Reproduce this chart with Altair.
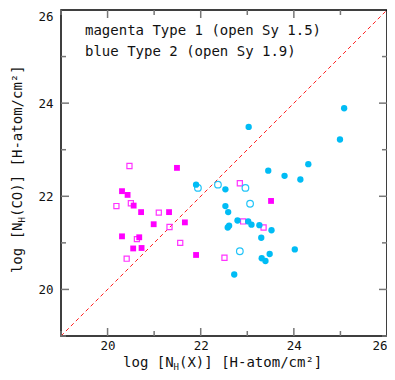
import altair as alt
import pandas as pd

# Type 1 (magenta squares): filled = Sy 1.0-1.2, open = Sy 1.5
t1_fill_x = [20.31, 20.43, 20.56, 20.72, 21.32, 21.49, 20.99, 21.66, 20.31, 20.68, 20.55, 20.73, 21.90, 23.51]
t1_fill_y = [22.11, 22.03, 21.80, 21.66, 21.66, 22.61, 21.40, 21.44, 21.14, 21.12, 20.88, 20.89, 20.74, 21.90]
t1_open_x = [20.47, 20.19, 20.50, 21.10, 21.33, 20.63, 20.41, 21.56, 22.51, 22.84, 22.91, 23.35]
t1_open_y = [22.65, 21.79, 21.85, 21.65, 21.34, 21.08, 20.66, 21.00, 20.68, 22.28, 21.46, 21.33]
# Type 2 (blue circles): filled = Sy 2, open = Sy 1.9
t2_fill_x = [21.90, 22.53, 23.03, 25.08, 24.99, 24.31, 23.80, 24.14, 23.45, 22.53, 22.59, 22.79,
             23.02, 23.09, 22.61, 22.58, 23.26, 23.52, 23.30, 23.48, 23.31, 23.39, 24.02, 22.72]
t2_fill_y = [22.25, 22.15, 23.49, 23.89, 23.22, 22.69, 22.44, 22.36, 22.55, 21.79, 21.66, 21.48,
             21.46, 21.39, 21.37, 21.33, 21.38, 21.27, 21.11, 20.76, 20.67, 20.61, 20.86, 20.32]
t2_open_x = [21.94, 22.37, 22.96, 23.06, 22.84]
t2_open_y = [22.18, 22.25, 22.18, 21.84, 20.82]

diag = [19, 26]
major_ticks = [20, 22, 24]
minor_ticks = [19, 21, 23, 25]
tick_labels = [20, 22, 24, 26]

W, H = 326, 326
FONT = "DejaVu Sans Mono"
INK = "#111111"

sx = alt.Scale(domain=[19, 26], nice=False, zero=False)
sy = alt.Scale(domain=[19, 26], nice=False, zero=False)
xax = alt.Axis(values=tick_labels, title=None, labelFlush=True, labelFlushOffset=0, labelPadding=3)
yax = alt.Axis(values=tick_labels, title=None, labelFlush=True, labelFlushOffset=0, labelPadding=8)


def X(f):
    return alt.X(f, type="quantitative", scale=sx, axis=xax)


def Y(f):
    return alt.Y(f, type="quantitative", scale=sy, axis=yax)


diag_df = pd.DataFrame({"x": diag, "y": diag})
line = alt.Chart(diag_df).mark_line(color="#ff2020", strokeDash=[4, 3], strokeWidth=1).encode(x=X("x"), y=Y("y"))

df_t1f = pd.DataFrame({"x": t1_fill_x, "y": t1_fill_y})
df_t1o = pd.DataFrame({"x": t1_open_x, "y": t1_open_y})
df_t2f = pd.DataFrame({"x": t2_fill_x, "y": t2_fill_y})
df_t2o = pd.DataFrame({"x": t2_open_x, "y": t2_open_y})

p1f = alt.Chart(df_t1f).mark_point(shape="square", filled=True, size=34, color="#ff00ff", opacity=1).encode(x=X("x"), y=Y("y"))
p1o = alt.Chart(df_t1o).mark_point(shape="square", filled=False, size=26, color="#ff33ff", strokeWidth=1.2, opacity=1).encode(x=X("x"), y=Y("y"))
p2f = alt.Chart(df_t2f).mark_point(shape="circle", filled=True, size=40, color="#00bcf5", opacity=1).encode(x=X("x"), y=Y("y"))
p2o = alt.Chart(df_t2o).mark_point(shape="circle", filled=False, size=44, color="#22c4f8", strokeWidth=1.2, opacity=1).encode(x=X("x"), y=Y("y"))

tick_color = "#777777"


def tick_layers(vals, L):
    d = pd.DataFrame({"v": vals})
    base = alt.Chart(d).mark_rule(color=tick_color, strokeWidth=1.5)
    return [
        base.encode(x=X("v"), y=alt.value(H), y2=alt.value(H - L)),
        base.encode(x=X("v"), y=alt.value(0), y2=alt.value(L)),
        base.encode(y=Y("v"), x=alt.value(0), x2=alt.value(L)),
        base.encode(y=Y("v"), x=alt.value(W), x2=alt.value(W - L)),
    ]


ticks = tick_layers(major_ticks, 8) + tick_layers(minor_ticks, 5)

txt = dict(font=FONT, fontSize=14, color=INK, baseline="alphabetic")
sub = dict(font=FONT, fontSize=9, color=INK, baseline="alphabetic")
leg1 = alt.Chart().mark_text(text="magenta Type 1 (open Sy 1.5)", align="left", **txt).encode(x=alt.value(24), y=alt.value(25))
leg2 = alt.Chart().mark_text(text="blue Type 2 (open Sy 1.9)", align="left", **txt).encode(x=alt.value(24), y=alt.value(46))

# x-axis title: log [N_H(X)] [H-atom/cm²]
xt_y = 357
xt_a = alt.Chart().mark_text(text="log [N", align="right", **txt).encode(x=alt.value(112.6), y=alt.value(xt_y))
xt_b = alt.Chart().mark_text(text="H", align="left", **sub).encode(x=alt.value(112.6), y=alt.value(xt_y + 3))
xt_c = alt.Chart().mark_text(text="(X)] [H-atom/cm²]", align="left", **txt).encode(x=alt.value(118), y=alt.value(xt_y))

# y-axis title: log [N_H(CO)] [H-atom/cm²]
yt_x = -39.5
yt_a = alt.Chart().mark_text(text="log [N", align="right", angle=270, **txt).encode(x=alt.value(yt_x), y=alt.value(212.5))
yt_b = alt.Chart().mark_text(text="H", align="left", angle=270, **sub).encode(x=alt.value(yt_x + 3), y=alt.value(212.5))
yt_c = alt.Chart().mark_text(text="(CO)] [H-atom/cm²]", align="left", angle=270, **txt).encode(x=alt.value(yt_x), y=alt.value(207))

chart = alt.layer(
    line, p1o, p1f, p2o, p2f, *ticks, leg1, leg2, xt_a, xt_b, xt_c, yt_a, yt_b, yt_c
).properties(
    width=W, height=H,
    autosize=alt.AutoSizeParams(type="none"),
    padding={"left": 53, "top": 2, "right": 0, "bottom": 36},
).configure_view(
    stroke="black", strokeWidth=1.5
).configure_axis(
    grid=False, ticks=False, domain=False,
    labelFont=FONT, labelFontSize=12.5, labelColor=INK,
)

chart.save("out.html", embed_options={"renderer": "svg", "actions": False})
